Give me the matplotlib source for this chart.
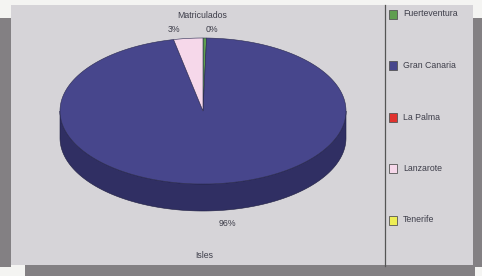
"""Matriculados por isla: 3D pie with legend, scanned-report look."""

import numpy as np
import matplotlib.pyplot as plt
from matplotlib.patches import Polygon, Rectangle

islands = ["Fuerteventura", "Gran Canaria", "La Palma", "Lanzarote", "Tenerife"]
values = [0.4, 96.3, 0.0, 3.3, 0.0]
labels = ["0%", "96%", "", "3%", ""]
colors = ["#5f9e4f", "#47468c", "#e0322e", "#f6d8ea", "#eeee55"]
sides = ["#3f6e33", "#302f63", "#9a2220", "#b89aa8", "#a8a83a"]

plt.rcParams["font.family"] = ["Liberation Sans", "DejaVu Sans"]

fig = plt.figure(figsize=(4.82, 2.76), dpi=100)
fig.patch.set_facecolor("#f4f4f2")
ax = fig.add_axes([0, 0, 1, 1])
ax.set_xlim(0, 482)
ax.set_ylim(276, 0)
ax.axis("off")

# frame shadow + panel
shadow = "#838083"
ax.add_patch(Rectangle((0, 18), 11, 249, color=shadow, lw=0))
ax.add_patch(Rectangle((25, 264), 450, 12, color=shadow, lw=0))
ax.add_patch(Rectangle((473, 18), 9, 249, color=shadow, lw=0))
ax.add_patch(Rectangle((11, 5), 462, 260, color="#d6d4d8", lw=0))
ax.plot([385, 385], [5, 266], color="#555555", lw=0.9)

# 3d pie geometry (pixel units)
cx, cy, a, b, depth = 203, 111, 143, 73, 27
total = sum(values)
edges = np.concatenate([[0], np.cumsum(values)]) / total * 2 * np.pi


def pt(phi, dy=0):
    return cx + a * np.sin(phi), cy - b * np.cos(phi) + dy


# front sides
for i, v in enumerate(values):
    if v <= 0:
        continue
    lo = max(edges[i], np.pi / 2)
    hi = min(edges[i + 1], 3 * np.pi / 2)
    if hi <= lo:
        continue
    ph = np.linspace(lo, hi, 200)
    xs, ys = pt(ph)
    poly = np.column_stack([np.r_[xs, xs[::-1]], np.r_[ys, ys[::-1] + depth]])
    ax.add_patch(Polygon(poly, closed=True, fc=sides[i], ec="#1e1e40", lw=0.4))

# tops
for i, v in enumerate(values):
    if v <= 0:
        continue
    ph = np.linspace(edges[i], edges[i + 1], max(4, int(v * 6)))
    xs, ys = pt(ph)
    poly = np.column_stack([np.r_[cx, xs], np.r_[cy, ys]])
    ax.add_patch(Polygon(poly, closed=True, fc=colors[i], ec="#2a2a50", lw=0.4))

# labels
txt = dict(fontsize=6.3, color="#3e3e4a", ha="center", va="center")
lab_pos = {0: (212, 29), 1: (227, 223), 3: (174, 29)}
for i, (x, y) in lab_pos.items():
    ax.text(x, y, labels[i], **txt)
ax.text(202, 16, "Matriculados", **txt)
ax.text(204, 256, "Isles", **txt)

# legend
for k, name in enumerate(islands):
    y = 14 + k * 51.5
    ax.add_patch(Rectangle((389, y - 4.5), 8, 9, fc=colors[k], ec="#555555", lw=0.6))
    ax.text(403, y, name, fontsize=6.3, color="#3e3e4a", va="center", ha="left")

plt.savefig("out.png", dpi=100)
